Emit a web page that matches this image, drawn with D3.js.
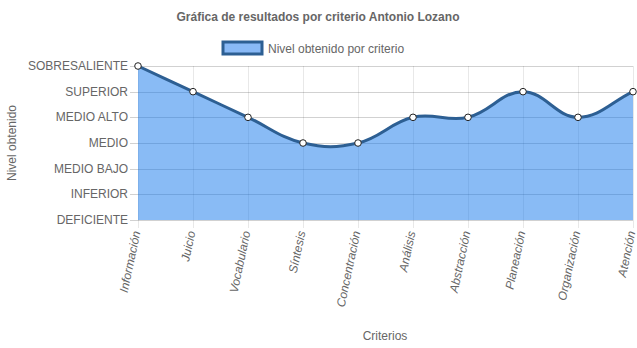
<!DOCTYPE html>
<html><head><meta charset="utf-8">
<script src="https://cdn.jsdelivr.net/npm/d3@7"></script>
<style>
body{margin:0;background:#fff;}
text{font-family:"Liberation Sans",Arial,sans-serif;fill:#666;}
</style></head>
<body>
<svg id="c" width="637" height="348"></svg>
<script>
const categories = ["Información","Juicio","Vocabulario","Síntesis","Concentración","Análisis","Abstracción","Planeación","Organización","Atención"];
const levels = ["DEFICIENTE","INFERIOR","MEDIO BAJO","MEDIO","MEDIO ALTO","SUPERIOR","SOBRESALIENTE"];
const values = [6,5,4,3,3,4,4,5,4,5];
const title = "Gráfica de resultados por criterio Antonio Lozano";
const seriesName = "Nivel obtenido por criterio";

const svg = d3.select("#c");
const L = 138, R = 633, T = 66, B = 220;
const x = d3.scalePoint().domain(categories).range([L, R]);
const y = d3.scaleLinear().domain([0, levels.length-1]).range([B, T]);

// title
svg.append("text").attr("x", 318).attr("y", 21).attr("text-anchor","middle")
  .style("font-size","12px").style("font-weight","bold").text(title);
// legend
svg.append("rect").attr("x",223).attr("y",42).attr("width",39).attr("height",12)
  .attr("fill","#89b9f6").attr("stroke","#2d5f93").attr("stroke-width",3);
svg.append("text").attr("x",268).attr("y",52.5).style("font-size","12px").text(seriesName);

// grid
const g = svg.append("g");
g.selectAll(".vg").data(categories).enter().append("line")
  .attr("x1", d=>x(d)+0.5).attr("x2", d=>x(d)+0.5).attr("y1", T).attr("y2", B+8)
  .attr("stroke","rgba(0,0,0,0.09)").attr("stroke-width",1);
g.selectAll(".hg").data(levels.map((d,i)=>i)).enter().append("line")
  .attr("x1", L-8).attr("x2", R).attr("y1", d=>Math.round(y(d))+0.5).attr("y2", d=>Math.round(y(d))+0.5)
  .attr("stroke","rgba(0,0,0,0.18)").attr("stroke-width",1);

// Chart.js style spline
const pts = values.map((v,i)=>({x:x(categories[i]), y:y(v)}));
const t = 0.4;
pts.forEach((p,i)=>{
  const prev = pts[i-1]||p, next = pts[i+1]||p;
  const d01 = Math.hypot(p.x-prev.x,p.y-prev.y), d12 = Math.hypot(next.x-p.x,next.y-p.y);
  let s01 = d01/(d01+d12), s12 = d12/(d01+d12);
  if(isNaN(s01)) s01=0; if(isNaN(s12)) s12=0;
  const fa=t*s01, fb=t*s12;
  p.cpPrev = {x:p.x-fa*(next.x-prev.x), y:Math.min(B,Math.max(T,p.y-fa*(next.y-prev.y)))};
  p.cpNext = {x:p.x+fb*(next.x-prev.x), y:Math.min(B,Math.max(T,p.y+fb*(next.y-prev.y)))};
});
let path = `M${pts[0].x},${pts[0].y}`;
for(let i=1;i<pts.length;i++){
  const a=pts[i-1], b=pts[i];
  path += `C${a.cpNext.x},${a.cpNext.y},${b.cpPrev.x},${b.cpPrev.y},${b.x},${b.y}`;
}
const area = path + `L${pts[pts.length-1].x},${B}L${pts[0].x},${B}Z`;
svg.append("path").attr("d", area).attr("fill","rgba(20,120,235,0.5)");
svg.append("path").attr("d", path).attr("fill","none").attr("stroke","#2d5f93").attr("stroke-width",3);
svg.selectAll(".pt").data(values).enter().append("circle")
  .attr("cx",(d,i)=>x(categories[i])).attr("cy",d=>y(d)).attr("r",3.3)
  .attr("fill","#fff").attr("stroke","#222").attr("stroke-width",1);

// y labels
svg.selectAll(".yl").data(levels).enter().append("text")
  .attr("x",128).attr("y",(d,i)=>y(i)+4).attr("text-anchor","end")
  .style("font-size","12px").text(d=>d);
// x labels
svg.selectAll(".xl").data(categories).enter().append("text")
  .attr("transform", d=>`translate(${x(d)+2.5},${B+12}) rotate(-78)`)
  .attr("text-anchor","end").style("font-size","12px").style("font-style","italic").text(d=>d);
// axis titles
svg.append("text").attr("transform","translate(16,143) rotate(-90)").attr("text-anchor","middle")
  .style("font-size","12px").text("Nivel obtenido");
svg.append("text").attr("x",385).attr("y",340).attr("text-anchor","middle")
  .style("font-size","12px").text("Criterios");
</script>
</body></html>
